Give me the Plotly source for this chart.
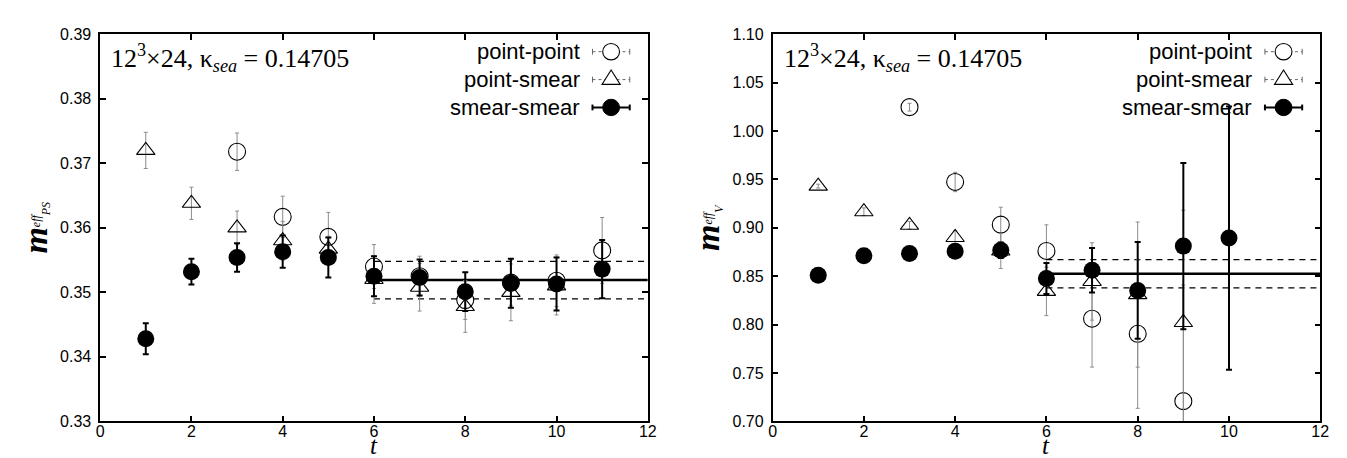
import plotly.graph_objects as go

# ---------------- data: left panel (pseudoscalar) ----------------
ps_pp_t = [3, 4, 5, 6, 7, 8, 9, 10, 11]
ps_pp_m = [0.3718, 0.3617, 0.3586, 0.3540, 0.3525, 0.3488, 0.3515, 0.3518, 0.3565]
ps_pp_e = [0.0029, 0.0032, 0.0038, 0.0034, 0.0031, 0.0030, 0.0035, 0.0040, 0.0051]

ps_ps_t = [1, 2, 3, 4, 5, 6, 7, 8, 9, 10]
ps_ps_m = [0.3720, 0.3638, 0.3600, 0.3580, 0.3567, 0.3520, 0.3508, 0.3478, 0.3500, 0.3510]
ps_ps_e = [0.0028, 0.0025, 0.0026, 0.0030, 0.0020, 0.0037, 0.0037, 0.0040, 0.0044, 0.0045]

ps_ss_t = [1, 2, 3, 4, 5, 6, 7, 8, 9, 10, 11]
ps_ss_m = [0.3428, 0.3532, 0.3554, 0.3563, 0.3554, 0.3525, 0.3523, 0.3501, 0.3514, 0.3513, 0.3536]
ps_ss_e = [0.0024, 0.0020, 0.0022, 0.0025, 0.0031, 0.0031, 0.0028, 0.0030, 0.0038, 0.0041, 0.0045]

ps_fit_range = [6, 12]
ps_fit_val = 0.3519
ps_fit_err = 0.0029

# ---------------- data: right panel (vector) ----------------
v_pp_t = [3, 4, 5, 6, 7, 8, 9]
v_pp_m = [1.0247, 0.9474, 0.9033, 0.8761, 0.8061, 0.7905, 0.7209]
v_pp_e = [0.004, 0.010, 0.018, 0.027, 0.050, 0.077, 0.120]

v_ps_t = [1, 2, 3, 4, 5, 6, 7, 8, 9]
v_ps_m = [0.9431, 0.9166, 0.9026, 0.8900, 0.8760, 0.8343, 0.8446, 0.8310, 0.8022]
v_ps_e = [0.002, 0.004, 0.004, 0.007, 0.018, 0.025, 0.040, 0.075, 0.116]

v_ss_t = [1, 2, 3, 4, 5, 6, 7, 8, 9, 10]
v_ss_m = [0.8509, 0.8711, 0.8735, 0.8758, 0.8768, 0.8476, 0.8562, 0.8353, 0.8811, 0.8894]
v_ss_e = [0.003, 0.003, 0.003, 0.004, 0.008, 0.016, 0.023, 0.050, 0.086, 0.136]

v_fit_range = [6, 12]
v_fit_val = 0.8526
v_fit_err = 0.0146

legend_labels = ["point-point", "point-smear", "smear-smear"]
annot_text = "12<sup>3</sup>×24, κ<sub><i>sea</i></sub> = 0.14705"

# ---------------- styling ----------------
SANS = "Liberation Sans, Arial, sans-serif"
SERIF = "Liberation Serif, Times New Roman, serif"
W, H = 1347, 458
left_dom = [89 / W, 642 / W]
right_dom = [768 / W, 1321 / W]
y_dom = [1 - 421 / H, 1 - 19 / H]

fig = go.Figure()


def add_series(t, m, e, xa, ya, kind):
    if kind == "pp":
        marker = dict(symbol="circle-open", size=17, color="black", line=dict(width=1.1, color="black"))
        err = dict(type="data", array=e, visible=True, color="#8c8c8c", thickness=1, width=2)
    elif kind == "ps":
        marker = dict(symbol="triangle-up-open", size=16, color="black", line=dict(width=1.1, color="black"))
        err = dict(type="data", array=e, visible=True, color="#8c8c8c", thickness=1, width=2)
    else:
        marker = dict(symbol="circle", size=17, color="black", line=dict(width=0, color="black"))
        err = dict(type="data", array=e, visible=True, color="black", thickness=2, width=3)
    fig.add_trace(go.Scatter(x=t, y=m, mode="markers", marker=marker, error_y=err,
                             xaxis=xa, yaxis=ya, showlegend=False, hoverinfo="skip"))


def add_fit(rng, val, err, xa, ya):
    for v, dash, w in [(val + err, "6px,5px", 1.2), (val - err, "6px,5px", 1.2), (val, "solid", 2.5)]:
        fig.add_trace(go.Scatter(x=rng, y=[v, v], mode="lines",
                                 line=dict(color="black", width=w, dash=dash),
                                 xaxis=xa, yaxis=ya, showlegend=False, hoverinfo="skip"))


add_fit(ps_fit_range, ps_fit_val, ps_fit_err, "x", "y")
add_series(ps_pp_t, ps_pp_m, ps_pp_e, "x", "y", "pp")
add_series(ps_ps_t, ps_ps_m, ps_ps_e, "x", "y", "ps")
add_series(ps_ss_t, ps_ss_m, ps_ss_e, "x", "y", "ss")

add_fit(v_fit_range, v_fit_val, v_fit_err, "x2", "y2")
add_series(v_pp_t, v_pp_m, v_pp_e, "x2", "y2", "pp")
add_series(v_ps_t, v_ps_m, v_ps_e, "x2", "y2", "ps")
add_series(v_ss_t, v_ss_m, v_ss_e, "x2", "y2", "ss")

axis_common = dict(showline=True, linecolor="black", linewidth=1.5, mirror="ticks",
                   ticks="inside", ticklen=6, tickwidth=1.5, tickcolor="black",
                   showgrid=False, zeroline=False,
                   tickfont=dict(family=SANS, size=16, color="black"))

fig.update_layout(
    width=W, height=H,
    margin=dict(l=0, r=0, t=0, b=0),
    paper_bgcolor="white", plot_bgcolor="white",
    xaxis=dict(domain=left_dom, range=[0, 12], dtick=2, anchor="y", ticklabelstandoff=-5, **axis_common),
    yaxis=dict(domain=y_dom, range=[0.33, 0.39], dtick=0.01, tickformat=".2f", anchor="x",
               ticklabelstandoff=4, **axis_common),
    xaxis2=dict(domain=right_dom, range=[0, 12], dtick=2, anchor="y2", ticklabelstandoff=-5, **axis_common),
    yaxis2=dict(domain=y_dom, range=[0.70, 1.10], dtick=0.05, tickformat=".2f", anchor="x2",
                ticklabelstandoff=4, **axis_common),
)

annotations = []
shapes = []
row_y = [0.955, 0.883, 0.811]
pw, ph = 553.0, 402.0
for xa, ylab, xt_center, ycenter_x in [("x", "PS", sum(left_dom) / 2, 24 / W),
                                       ("x2", "V", sum(right_dom) / 2, 703 / W)]:
    dref = xa + " domain"
    yref = ("y" if xa == "x" else "y2") + " domain"
    annotations.append(dict(text=annot_text, xref=dref, yref=yref, x=0.017, y=0.940,
                            xanchor="left", yanchor="middle", showarrow=False,
                            font=dict(family=SERIF, size=26, color="black")))
    for i, lab in enumerate(legend_labels):
        yy = row_y[i]
        annotations.append(dict(text=lab, xref=dref, yref=yref, x=0.879, y=yy,
                                xanchor="right", yanchor="middle", showarrow=False,
                                font=dict(family=SANS, size=22, color="black")))
        solid = (i == 2)
        lstyle = dict(color="black", width=2) if solid else dict(color="#666666", width=1, dash="dot")
        cstyle = dict(color="black", width=2) if solid else dict(color="#666666", width=1)
        x0, x1, xc = 0.899, 0.967, 0.933
        shapes.append(dict(type="line", xref=dref, yref=yref, x0=x0, x1=x1, y0=yy, y1=yy, line=lstyle))
        for xe in (x0, x1):
            shapes.append(dict(type="line", xref=dref, yref=yref, x0=xe, x1=xe,
                               y0=yy - 3 / ph, y1=yy + 3 / ph, line=cstyle))
        rx, ry = 8.5 / pw, 8.5 / ph
        if i == 0:
            shapes.append(dict(type="circle", xref=dref, yref=yref, x0=xc - rx, x1=xc + rx,
                               y0=yy - ry, y1=yy + ry, fillcolor="white", line=dict(color="black", width=1.1)))
        elif i == 1:
            hx = 9.2 / pw
            path = "M {:.5f},{:.5f} L {:.5f},{:.5f} L {:.5f},{:.5f} Z".format(
                xc - hx, yy - 5 / ph, xc + hx, yy - 5 / ph, xc, yy + 10 / ph)
            shapes.append(dict(type="path", xref=dref, yref=yref, path=path,
                               fillcolor="white", line=dict(color="black", width=1.1)))
        else:
            shapes.append(dict(type="circle", xref=dref, yref=yref, x0=xc - rx, x1=xc + rx,
                               y0=yy - ry, y1=yy + ry, fillcolor="black", line=dict(color="black", width=1)))
    # axis titles
    ytitle = ("<b><i>m</i></b><span style='font-size:17px'><sup><i>eff</i></sup>"
              "<sub><i>" + ylab + "</i></sub></span>")
    annotations.append(dict(text=ytitle,
                            xref="paper", yref="paper", x=ycenter_x, y=1 - 220 / H,
                            xanchor="center", yanchor="middle", textangle=-90, showarrow=False,
                            font=dict(family=SERIF, size=34, color="black")))
    annotations.append(dict(text="<i>t</i>", xref="paper", yref="paper", x=xt_center, y=0,
                            xanchor="center", yanchor="bottom", yshift=-4, showarrow=False,
                            font=dict(family=SERIF, size=25, color="black")))

fig.update_layout(annotations=annotations, shapes=shapes)
fig.write_html("out.html")
